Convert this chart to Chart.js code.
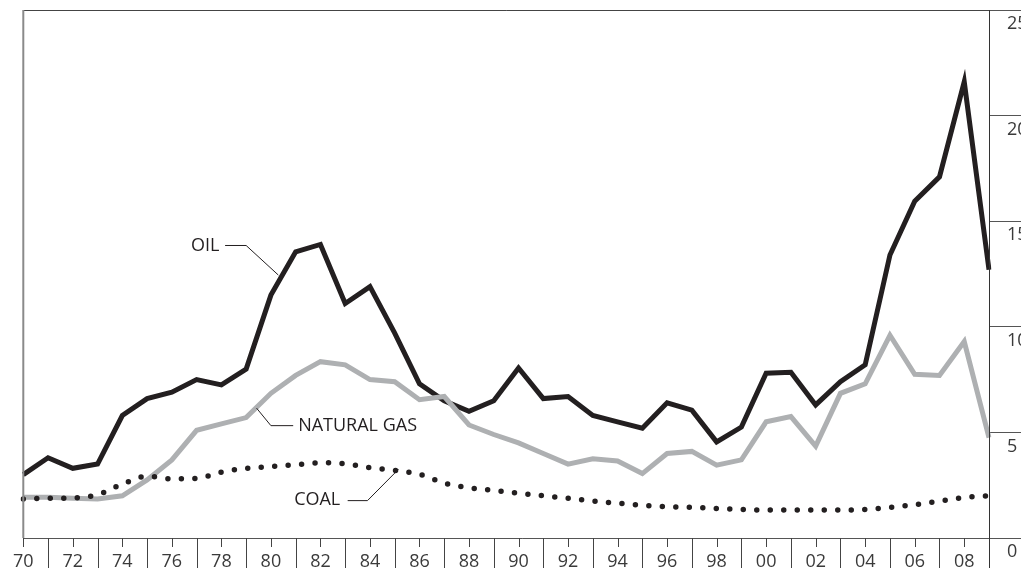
<!DOCTYPE html>
<html>
<head>
<meta charset="utf-8">
<script src="https://cdn.jsdelivr.net/npm/chart.js@4.4.1/dist/chart.umd.min.js"></script>
<style>
  html, body { margin: 0; padding: 0; background: #ffffff; }
  #wrap { width: 1021px; height: 568px; position: relative; overflow: hidden; }
</style>
</head>
<body>
<div id="wrap"><canvas id="c" width="1021" height="568"></canvas></div>
<script>
// ---- data ----
const years = [1970,1971,1972,1973,1974,1975,1976,1977,1978,1979,
               1980,1981,1982,1983,1984,1985,1986,1987,1988,1989,
               1990,1991,1992,1993,1994,1995,1996,1997,1998,1999,
               2000,2001,2002,2003,2004,2005,2006,2007,2008,2009];
const xTickLabels = ['70','72','74','76','78','80','82','84','86','88',
                     '90','92','94','96','98','00','02','04','06','08'];
const yTickValues = [0, 5, 10, 15, 20, 25];

const oil = [3.0, 3.8, 3.3, 3.5, 5.8, 6.6, 6.9, 7.5, 7.25, 8.0,
             11.5, 13.55, 13.9, 11.1, 11.9, 9.7, 7.3, 6.5, 6.0, 6.5,
             8.05, 6.6, 6.7, 5.8, 5.5, 5.2, 6.4, 6.05, 4.55, 5.25,
             7.8, 7.85, 6.3, 7.4, 8.2, 13.4, 15.95, 17.1, 21.6, 12.7];
const naturalGas = [1.93, 1.93, 1.88, 1.85, 2.0, 2.75, 3.7, 5.1, 5.4, 5.7,
                    6.85, 7.7, 8.35, 8.2, 7.5, 7.4, 6.55, 6.7, 5.35, 4.9,
                    4.5, 4.0, 3.5, 3.75, 3.65, 3.05, 4.0, 4.1, 3.45, 3.7,
                    5.5, 5.75, 4.35, 6.85, 7.3, 9.6, 7.75, 7.7, 9.3, 4.75];
const coal = [1.85, 1.88, 1.9, 2.05, 2.55, 2.92, 2.8, 2.82, 3.12, 3.3,
              3.38, 3.47, 3.56, 3.52, 3.33, 3.2, 3.02, 2.6, 2.38, 2.25,
              2.12, 2.0, 1.88, 1.75, 1.65, 1.55, 1.48, 1.45, 1.4, 1.35,
              1.32, 1.32, 1.33, 1.33, 1.35, 1.45, 1.58, 1.75, 1.92, 2.0];

// annotation labels: text plus leader path, in (year, value) units
const annotations = [
  { text: 'OIL', align: 'right', at: [1977.92, 13.85], path: [[1978.15, 13.85], [1979.0, 13.85], [1980.3, 12.45]] },
  { text: 'NATURAL GAS', align: 'left', at: [1981.1, 5.3], path: [[1980.9, 5.32], [1980.0, 5.32], [1979.42, 6.15]] },
  { text: 'COAL', align: 'right', at: [1982.8, 1.8], path: [[1983.1, 1.77], [1983.9, 1.77], [1985.15, 3.25]] }
];

const INK = '#231f20';
const FONT = '"Open Sans", "Noto Sans", sans-serif';

const framePlugin = {
  id: 'frame',
  afterDraw(chart) {
    const ctx = chart.ctx;
    const xs = chart.scales.x, ys = chart.scales.y;
    const a = chart.chartArea;
    const W = chart.width, H = chart.height;
    ctx.save();
    // top border
    ctx.strokeStyle = '#444'; ctx.lineWidth = 1;
    ctx.beginPath(); ctx.moveTo(a.left, a.top + 0.5); ctx.lineTo(a.right, a.top + 0.5); ctx.stroke();
    // bottom axis line (extends to the right edge)
    ctx.strokeStyle = '#555';
    ctx.beginPath(); ctx.moveTo(a.left, a.bottom + 0.5); ctx.lineTo(W, a.bottom + 0.5); ctx.stroke();
    // right axis
    ctx.strokeStyle = '#333';
    ctx.beginPath(); ctx.moveTo(a.right + 0.5, a.top); ctx.lineTo(a.right + 0.5, H); ctx.stroke();
    // left axis (grey)
    ctx.strokeStyle = '#8a8a8a'; ctx.lineWidth = 2;
    ctx.beginPath(); ctx.moveTo(a.left, a.top); ctx.lineTo(a.left, a.bottom); ctx.stroke();
    // x ticks: short at even years, long at odd years
    ctx.strokeStyle = '#444'; ctx.lineWidth = 1;
    years.forEach((yr, i) => {
      const px = Math.round(xs.getPixelForValue(i)) + 0.5;
      if (i === years.length - 1) return;
      ctx.beginPath();
      ctx.moveTo(px, a.bottom);
      ctx.lineTo(px, i % 2 === 0 ? a.bottom + 9 : H);
      ctx.stroke();
    });
    // annotations
    const yearPx = (yv) => xs.getPixelForValue(yv - years[0]);
    ctx.fillStyle = INK;
    ctx.font = '18px ' + FONT;
    ctx.textBaseline = 'middle';
    annotations.forEach(an => {
      ctx.textAlign = an.align;
      ctx.fillText(an.text, yearPx(an.at[0]), ys.getPixelForValue(an.at[1]));
      ctx.strokeStyle = INK; ctx.lineWidth = 1;
      ctx.beginPath();
      an.path.forEach((p, k) => {
        const px = yearPx(p[0]), py = ys.getPixelForValue(p[1]);
        if (k === 0) ctx.moveTo(px, py); else ctx.lineTo(px, py);
      });
      ctx.stroke();
    });
    ctx.restore();
  }
};

new Chart(document.getElementById('c'), {
  type: 'line',
  data: {
    labels: years,
    datasets: [
      { label: 'COAL', data: coal, borderColor: INK, borderWidth: 5.5, borderDash: [0, 13.5],
        borderCapStyle: 'round', pointRadius: 0, cubicInterpolationMode: 'monotone', fill: false },
      { label: 'NATURAL GAS', data: naturalGas, borderColor: '#aeb0b2', borderWidth: 5,
        borderJoinStyle: 'miter', pointRadius: 0, tension: 0, fill: false },
      { label: 'OIL', data: oil, borderColor: INK, borderWidth: 5,
        borderJoinStyle: 'miter', pointRadius: 0, tension: 0, fill: false }
    ]
  },
  options: {
    responsive: false,
    devicePixelRatio: 1,
    animation: false,
    events: [],
    layout: { padding: { left: 19, top: 10, right: 0, bottom: 0 } },
    plugins: { legend: { display: false }, tooltip: { enabled: false } },
    scales: {
      x: {
        type: 'category',
        offset: false,
        grid: { display: false, drawTicks: false },
        border: { display: false },
        ticks: {
          autoSkip: false, maxRotation: 0, minRotation: 0, padding: 13,
          color: '#3a3a3a', font: { family: FONT, size: 18 },
          callback: (v, i) => (i % 2 === 0 ? xTickLabels[i / 2] : '')
        },
        afterFit: (s) => { s.height = 30; }
      },
      y: {
        position: 'right',
        min: 0, max: 25,
        afterBuildTicks: (s) => { s.ticks = yTickValues.map(v => ({ value: v })); },
        grid: { drawOnChartArea: false, drawTicks: true, tickLength: 32, color: '#555', lineWidth: 1 },
        border: { display: false },
        ticks: {
          padding: -14, labelOffset: 14,
          color: '#3a3a3a', font: { family: FONT, size: 18 }
        },
        afterFit: (s) => { s.width = 32; }
      }
    }
  },
  plugins: [framePlugin]
});
</script>
</body>
</html>
